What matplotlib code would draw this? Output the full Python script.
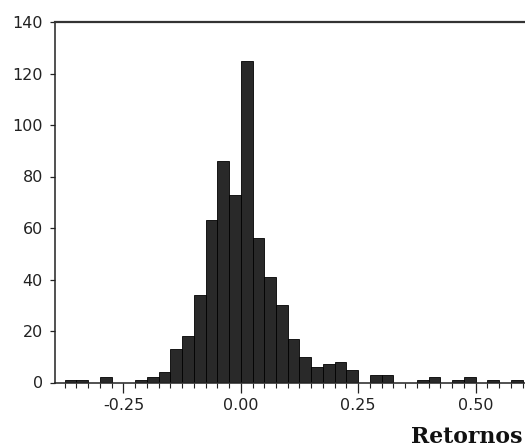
import numpy as np
import matplotlib.pyplot as plt
from matplotlib.ticker import MultipleLocator, FormatStrFormatter

# histogram of returns, bins of width 0.025 starting at -0.375
bin_start = -0.375
bin_width = 0.025
counts = [1, 1, 0, 2, 0, 0, 1, 2, 4, 13, 18, 34, 63, 86, 73,
          125, 56, 41, 30, 17, 10, 6, 7, 8, 5, 0, 3, 3, 0, 0,
          1, 2, 0, 1, 2, 0, 1, 0, 1]
xlabel = "Retornos"

edges = bin_start + bin_width * np.arange(len(counts))

fig = plt.figure(figsize=(5.25, 4.47), dpi=100)
# axes runs past the right edge of the figure (the scan is cropped there)
ax = fig.add_axes([55/525, 64.5/447, 491/525, 360.5/447])

ax.bar(edges, counts, width=bin_width, align='edge',
       color='#292929', edgecolor='black', linewidth=0.6)

ax.set_xlim(-0.3957, 0.65)
ax.set_ylim(0, 140)

ax.xaxis.set_major_locator(MultipleLocator(0.25))
ax.xaxis.set_minor_locator(MultipleLocator(0.025))
ax.xaxis.set_major_formatter(FormatStrFormatter('%.2f'))
ax.yaxis.set_major_locator(MultipleLocator(20))

ax.tick_params(axis='x', which='major', direction='out', length=7.5, width=0.9,
               pad=4, labelsize=11.5, colors='#222222')
ax.tick_params(axis='x', which='minor', direction='out', length=3.8, width=0.8,
               colors='#222222')
ax.tick_params(axis='y', which='major', direction='out', length=3.8, width=0.9,
               pad=5, labelsize=11.5, colors='#222222')

for side in ['left', 'bottom']:
    ax.spines[side].set_linewidth(1.1)
    ax.spines[side].set_color('#222222')
ax.spines['top'].set_linewidth(1.6)
ax.spines['top'].set_color('#333333')
ax.spines['right'].set_visible(False)

fig.text(411/525, 1 - 437/447, xlabel, family='DejaVu Serif', weight='bold',
         fontsize=15.8, va='center', ha='left', color='#111111')

fig.savefig('out.png', dpi=100)
